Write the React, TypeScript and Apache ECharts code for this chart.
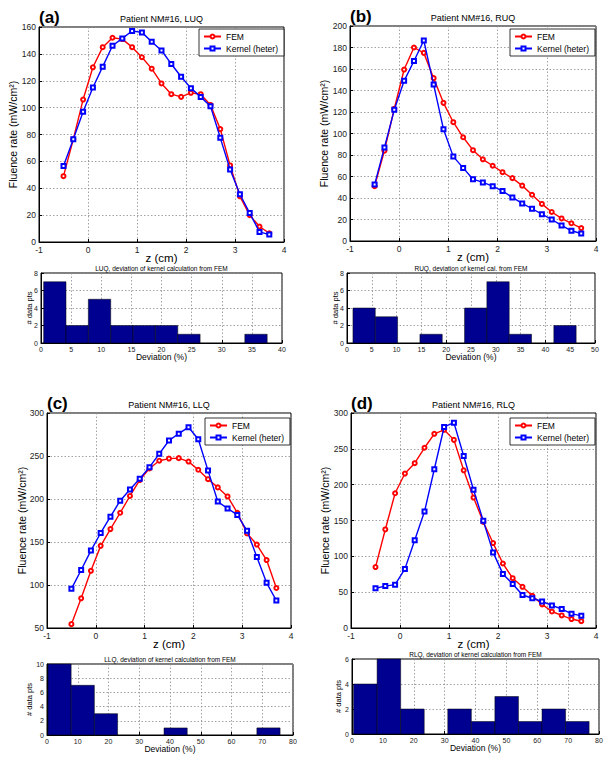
import React, { useEffect, useRef } from "react";
import * as echarts from "echarts";

const zPos = [-0.5, -0.3, -0.1, 0.1, 0.3, 0.5, 0.7, 0.9, 1.1, 1.3, 1.5, 1.7, 1.9, 2.1, 2.3, 2.5, 2.7, 2.9, 3.1, 3.3, 3.5, 3.7];

const luqFem = [49, 76.5, 106, 130, 145, 152, 151, 145, 137.5, 129, 118, 110, 108, 111, 110, 102, 84, 57, 34, 20, 11.5, 6.5];
const luqKernel = [56.5, 76.5, 97, 115, 130.5, 146, 151.5, 157, 156, 149, 142.5, 132.5, 123, 114.5, 108, 101, 77.5, 54, 35.5, 21.5, 7.5, 5.5];

const ruqFem = [51, 84, 123, 159.5, 180, 175, 151.5, 128.5, 110.5, 96.5, 84.5, 76, 70, 64, 58.5, 51.5, 43, 34.5, 27, 21, 16.5, 12];
const ruqKernel = [52.5, 87, 122, 149, 167.5, 186.5, 145.5, 104, 78.5, 68, 57.5, 54.5, 51, 46.5, 40.5, 35, 30, 25, 20, 14.5, 9.5, 7];

const llqFem = [54.5, 84.5, 116.5, 145.5, 165, 184, 203.5, 222, 235.5, 244.5, 247, 247.5, 243.5, 234, 223, 213.5, 203, 184, 160, 147, 129, 96.5];
const llqKernel = [95.5, 117.5, 140, 160.5, 179.5, 198, 211, 223.5, 237, 252.5, 268, 276, 283.5, 269.5, 233, 197, 189, 181.5, 163, 132.5, 102.5, 82];

const rlqFem = [85, 137.5, 188, 215.5, 230, 251.5, 271, 276.5, 262.5, 220, 182, 148, 118.5, 90, 69.5, 57.5, 45, 33, 23, 17.5, 12.5, 9.5];
const rlqKernel = [55.5, 58.5, 60.5, 82.5, 122.5, 162.5, 221.5, 280.5, 286.5, 240, 193, 149.5, 105.5, 75.5, 61.5, 46, 41.5, 37, 31.5, 26.5, 20, 17];

const luqBinStart = 0.44, luqBinWidth = 3.71;
const luqCounts = [7, 2, 5, 2, 2, 2, 1, 0, 0, 1];
const ruqBinStart = 1.2, ruqBinWidth = 4.5;
const ruqCounts = [4, 3, 0, 1, 0, 4, 7, 1, 0, 2];
const llqBinStart = 0.3, llqBinWidth = 7.55;
const llqCounts = [10, 7, 3, 0, 0, 1, 0, 0, 0, 1];
const rlqBinStart = 0.5, rlqBinWidth = 7.63;
const rlqCounts = [4, 6, 2, 0, 2, 1, 3, 1, 2, 1];

const panelTitles = ["Patient NM#16, LUQ", "Patient NM#16, RUQ", "Patient NM#16, LLQ", "Patient NM#16, RLQ"];
const histTitles = [
  "LUQ, deviation of kernel calculation from FEM",
  "RUQ, deviation of kernel cal. from FEM",
  "LLQ, deviation of kernel calculation from FEM",
  "RLQ, deviation of kernel calculation from FEM",
];
const panelLetters = ["(a)", "(b)", "(c)", "(d)"];

const FONT = "Liberation Sans, Arial, sans-serif";

// layout
const lineGrids = [
  { left: 39, top: 27, width: 245, height: 215 },
  { left: 350, top: 26, width: 246, height: 215 },
  { left: 47, top: 413, width: 244, height: 215 },
  { left: 351, top: 413, width: 245, height: 215 },
];
const histGrids = [
  { left: 41, top: 273, width: 241, height: 70 },
  { left: 347, top: 273, width: 248, height: 70 },
  { left: 47, top: 664, width: 246, height: 71 },
  { left: 352, top: 659, width: 247, height: 75 },
];
const lineY = [
  { min: 0, max: 160, interval: 20 },
  { min: 0, max: 200, interval: 20 },
  { min: 50, max: 300, interval: 50 },
  { min: 0, max: 300, interval: 50 },
];
const histX = [
  { min: 0, max: 40, interval: 5 },
  { min: 0, max: 50, interval: 5 },
  { min: 0, max: 80, interval: 10 },
  { min: 0, max: 80, interval: 10 },
];
const histY = [
  { min: 0, max: 8, interval: 2 },
  { min: 0, max: 8, interval: 2 },
  { min: 0, max: 10, interval: 2 },
  { min: 0, max: 6, interval: 2 },
];
const lineYNameGap = [20.5, 20.5, 19.5, 20.5];
const histNameGap = [8, 8, 13.5, 9.5];
const legendPos = [
  { left: 199, top: 29 },
  { left: 510, top: 29 },
  { left: 205, top: 418 },
  { left: 510, top: 418 },
];

const femData = [luqFem, ruqFem, llqFem, rlqFem];
const kerData = [luqKernel, ruqKernel, llqKernel, rlqKernel];
const hists = [
  [luqBinStart, luqBinWidth, luqCounts],
  [ruqBinStart, ruqBinWidth, ruqCounts],
  [llqBinStart, llqBinWidth, llqCounts],
  [rlqBinStart, rlqBinWidth, rlqCounts],
] as [number, number, number[]][];

function axisCommon(fontSize: number, margin: number) {
  return {
    axisLine: { show: true, onZero: false, lineStyle: { color: "#000", width: 1 } },
    axisTick: { show: true, inside: true, length: 3, lineStyle: { color: "#000" } },
    axisLabel: { color: "#222", fontSize, fontFamily: FONT, margin, lineHeight: fontSize + 1 },
    splitLine: { show: true, lineStyle: { type: [1.5, 2], color: "#8c8c8c", width: 0.8 } },
  };
}

export default function App() {
  const ref = useRef<HTMLDivElement>(null);
  useEffect(() => {
    if (!ref.current) return;
    const chart = echarts.init(ref.current, undefined, { renderer: "svg" });
    const grid: any[] = [];
    const xAxis: any[] = [];
    const yAxis: any[] = [];
    const series: any[] = [];
    const title: any[] = [];
    const legend: any[] = [];

    for (let i = 0; i < 4; i++) {
      const g = lineGrids[i];
      grid.push({ ...g, show: true, borderColor: "#000", borderWidth: 1 });
      const gi = grid.length - 1;
      xAxis.push({
        type: "value", gridIndex: gi, min: -1, max: 4, interval: 1,
        name: "z (cm)", nameLocation: "middle", nameGap: 10, nameMoveOverlap: false,
        nameTextStyle: { fontSize: 11.5, fontFamily: FONT, color: "#000", lineHeight: 11 },
        ...axisCommon(8.5, 3),
      });
      yAxis.push({
        type: "value", gridIndex: gi, ...lineY[i],
        name: "Fluence rate (mW/cm²)", nameLocation: "middle", nameGap: lineYNameGap[i], nameMoveOverlap: false,
        nameTextStyle: { fontSize: 10.5, fontFamily: FONT, color: "#000", lineHeight: 11 },
        ...axisCommon(8.5, 3),
      });
      series.push({
        type: "line", name: "FEM", xAxisIndex: gi, yAxisIndex: gi,
        data: zPos.map((z, k) => [z, femData[i][k]]),
        symbol: "emptyCircle", symbolSize: 4,
        lineStyle: { color: "#ff0000", width: 1.4 },
        itemStyle: { color: "#ff0000", borderWidth: 1 },
        z: 3,
      });
      series.push({
        type: "line", name: "Kernel (heter)", xAxisIndex: gi, yAxisIndex: gi,
        data: zPos.map((z, k) => [z, kerData[i][k]]),
        symbol: "emptyRect", symbolSize: 4,
        lineStyle: { color: "#0000ff", width: 1.4 },
        itemStyle: { color: "#0000ff", borderWidth: 1 },
        z: 4,
      });
      title.push({
        text: panelTitles[i], left: g.left + g.width / 2, top: g.top - 13, textAlign: "center", padding: 0,
        textStyle: { fontSize: 9, fontWeight: "normal", fontFamily: FONT, color: "#000" },
      });
      title.push({
        text: panelLetters[i], left: g.left, top: g.top - 18, padding: 0,
        textStyle: { fontSize: 17, fontWeight: "bold", fontFamily: FONT, color: "#000" },
      });
      legend.push({
        ...legendPos[i], orient: "vertical", data: ["FEM", "Kernel (heter)"],
        itemWidth: 17, itemHeight: 5, itemGap: 3, padding: [3, 6, 3, 4],
        borderColor: "#000", borderWidth: 0.8, backgroundColor: "#fff",
        textStyle: { fontSize: 8.5, fontFamily: FONT, color: "#000", padding: [0, 0, 0, 0] },
        z: 10,
      });

      // histogram
      const h = histGrids[i];
      grid.push({ ...h, show: true, borderColor: "#000", borderWidth: 1 });
      const hi = grid.length - 1;
      xAxis.push({
        type: "value", gridIndex: hi, ...histX[i],
        name: "Deviation (%)", nameLocation: "middle", nameGap: 9, nameMoveOverlap: false,
        nameTextStyle: { fontSize: 8.5, fontFamily: FONT, color: "#000", lineHeight: 9 },
        ...axisCommon(7, 2),
      });
      yAxis.push({
        type: "value", gridIndex: hi, ...histY[i],
        name: "# data pts", nameLocation: "middle", nameGap: histNameGap[i], nameMoveOverlap: false,
        nameTextStyle: { fontSize: 7.5, fontFamily: FONT, color: "#000", lineHeight: 8 },
        ...axisCommon(7, 3),
      });
      const [start, width, counts] = hists[i];
      const binData: number[][] = [];
      counts.forEach((c, k) => {
        if (c > 0) binData.push([start + k * width, start + (k + 1) * width, c]);
      });
      series.push({
        type: "custom", xAxisIndex: hi, yAxisIndex: hi,
        data: binData,
        encode: { x: [0, 1], y: 2 },
        renderItem: (params: any, api: any) => {
          const p0 = api.coord([api.value(0), api.value(2)]);
          const p1 = api.coord([api.value(1), 0]);
          return {
            type: "rect",
            shape: { x: p0[0], y: p0[1], width: p1[0] - p0[0], height: p1[1] - p0[1] },
            style: { fill: "#000090", stroke: "#000", lineWidth: 0.5 },
          };
        },
        z: 3,
      });
      title.push({
        text: histTitles[i], left: h.left + h.width / 2, top: h.top - 8, textAlign: "center", padding: 0,
        textStyle: { fontSize: 6.5, fontWeight: "normal", fontFamily: FONT, color: "#000", lineHeight: 7 },
      });
    }

    chart.setOption({
      animation: false,
      backgroundColor: "#fff",
      textStyle: { fontFamily: FONT },
      title,
      legend,
      grid,
      xAxis,
      yAxis,
      series,
    });
    return () => chart.dispose();
  }, []);
  return (
    <div
      ref={ref}
      style={{ position: "fixed", left: 0, top: 0, width: 612, height: 761 }}
    />
  );
}
